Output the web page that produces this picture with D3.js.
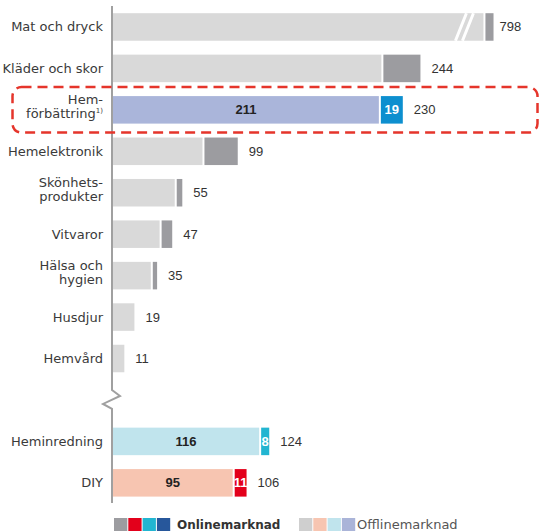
<!DOCTYPE html>
<html>
<head>
<meta charset="utf-8">
<script src="https://cdn.jsdelivr.net/npm/d3@7"></script>
<style>
body{margin:0;background:#fff;}
text{font-family:"DejaVu Sans",sans-serif;}
.num{font-family:"Liberation Sans",Arial,sans-serif;}
</style>
</head>
<body>
<svg id="chart" width="539" height="531"></svg>
<script>
// data
const categories=["Mat och dryck","Kläder och skor","Hemförbättring","Hemelektronik","Skönhetsprodukter","Vitvaror","Hälsa och hygien","Husdjur","Hemvård","Heminredning","DIY"];
const labelLines=[["Mat och dryck"],["Kläder och skor"],["Hem-","förbättring"],["Hemelektronik"],["Skönhets-","produkter"],["Vitvaror"],["Hälsa och","hygien"],["Husdjur"],["Hemvård"],["Heminredning"],["DIY"]];
const offline=[790,213,211,71,49,37,30,17,9,116,95];
const online=[8,31,19,28,6,10,5,0,0,8,11];
const totals=[798,244,230,99,55,47,35,19,11,124,106];
const groups=["gray","gray","blue","gray","gray","gray","gray","gray","gray","cyan","red"];
const legendOnline=["#9c9ca0","#e3001b","#22b5d1","#27579b"];
const legendOffline=["#cfcfcf","#f7c5b1","#c0e4ed","#aab4d8"];

window.onload=function(){
	const svg=d3.select("#chart");
	const offColor={gray:"#d9d9d9",blue:"#aab5da",cyan:"#c0e4ed",red:"#f7c5b1"},
	onColor={gray:"#9c9ca0",blue:"#0d8fcf",cyan:"#22b5d1",red:"#e3001b"};
	const breakAt=294;//bars longer than this get cut

	const x=d3.scaleLinear().domain([0,300]).range([113,491]);
	const slots=categories.slice(0,9).concat(["_gap"],categories.slice(9));
	const y=d3.scaleBand().domain(slots).range([13.2,496.6]).paddingInner(0.336).paddingOuter(0);
	const bw=y.bandwidth();

	const rows=categories.map(function(c,i){
		return {cat:c,lines:labelLines[i],off:offline[i],on:online[i],tot:totals[i],g:groups[i]};
	});

	const bars=svg.append("g").selectAll("g").data(rows).enter().append("g")
		.attr("transform",function(d){return "translate(0,"+y(d.cat)+")";});

	function offEnd(d){return x(Math.min(d.off,breakAt));}
	function onEnd(d){return offEnd(d)+(x(d.on)-x(0));}

	bars.append("rect")
		.attr("x",x(0))
		.attr("width",function(d){return offEnd(d)-x(0);})
		.attr("height",bw)
		.style("fill",function(d){return offColor[d.g];});
	bars.filter(function(d){return d.on>0;}).append("rect")
		.attr("x",function(d){return offEnd(d)+2;})
		.attr("width",function(d){return Math.max(0,onEnd(d)-offEnd(d)-2);})
		.attr("height",bw)
		.style("fill",function(d){return onColor[d.g];});

	//break slashes
	bars.filter(function(d){return d.off>breakAt;}).each(function(d){
		const e=offEnd(d),g=d3.select(this);
		[[-28,-17],[-21,-10]].forEach(function(s){
			g.append("line").attr("x1",e+s[0]).attr("y1",bw).attr("x2",e+s[1]).attr("y2",0)
				.style("stroke","#fff").style("stroke-width",3);
		});
	});

	//total labels
	bars.append("text").attr("class","num")
		.attr("x",function(d){return onEnd(d)+(d.off>breakAt?6:11);})
		.attr("y",bw/2+4.5)
		.style("font-size","13px").style("fill","#333")
		.text(function(d){return d.tot;});

	//inside labels for coloured bars
	const col=bars.filter(function(d){return d.g!="gray";});
	col.append("text").attr("class","num")
		.attr("x",function(d){return (x(0)+offEnd(d))/2;})
		.attr("y",bw/2+4.5).attr("text-anchor","middle")
		.style("font-size","13px").style("font-weight","bold").style("fill","#222")
		.text(function(d){return d.off;});
	col.append("text").attr("class","num")
		.attr("x",function(d){return (offEnd(d)+2+onEnd(d))/2;})
		.attr("y",bw/2+4.5).attr("text-anchor","middle")
		.style("font-size","13px").style("font-weight","bold").style("fill","#fff")
		.text(function(d){return d.on;});

	//category labels
	bars.each(function(d){
		const t=d3.select(this).append("text")
			.attr("x",103).attr("text-anchor","end")
			.style("font-size","13px").style("fill","#3a3a3a");
		if(d.lines.length==1){
			t.attr("y",bw/2+4.5).text(d.lines[0]);
		}else{
			d.lines.forEach(function(l,j){
				const ts=t.append("tspan").attr("x",103).attr("y",bw/2-6+j*14).text(l);
			});
			if(d.cat=="Hemförbättring"){
				t.append("tspan").attr("dy",-5).style("font-size","7px").text("1)");
			}
		}
	});

	//axis line with break
	const gy=y("_gap")+bw/2;
	svg.append("path")
		.attr("d","M112,6V"+(gy-10)+"L120,"+(gy-4)+"L103,"+(gy+4)+"L112,"+(gy+9)+"V503")
		.style("fill","none").style("stroke","#a0a0a0").style("stroke-width",2);

	//highlight box
	const hy=y("Hemförbättring");
	svg.append("rect")
		.attr("x",12.5).attr("y",hy-9).attr("width",525).attr("height",bw+18)
		.attr("rx",9)
		.style("fill","none").style("stroke","#e5352b").style("stroke-width",2.5)
		.style("stroke-dasharray","10,6");

	//legend
	const lg=svg.append("g").attr("transform","translate(0,518)");
	lg.selectAll(".on").data(legendOnline).enter().append("rect")
		.attr("x",function(d,i){return 114+i*14.3;}).attr("width",13.3).attr("height",13)
		.style("fill",function(d){return d;});
	lg.append("text").attr("x",177).attr("y",11)
		.style("font-size","12px").style("font-weight","bold").style("fill","#333")
		.text("Onlinemarknad");
	lg.selectAll(".off").data(legendOffline).enter().append("rect")
		.attr("x",function(d,i){return 299+i*14.3;}).attr("width",13.3).attr("height",13)
		.style("fill",function(d){return d;});
	lg.append("text").attr("x",357).attr("y",11)
		.style("font-size","13px").style("fill","#555")
		.text("Offlinemarknad");
}
</script>
</body>
</html>
